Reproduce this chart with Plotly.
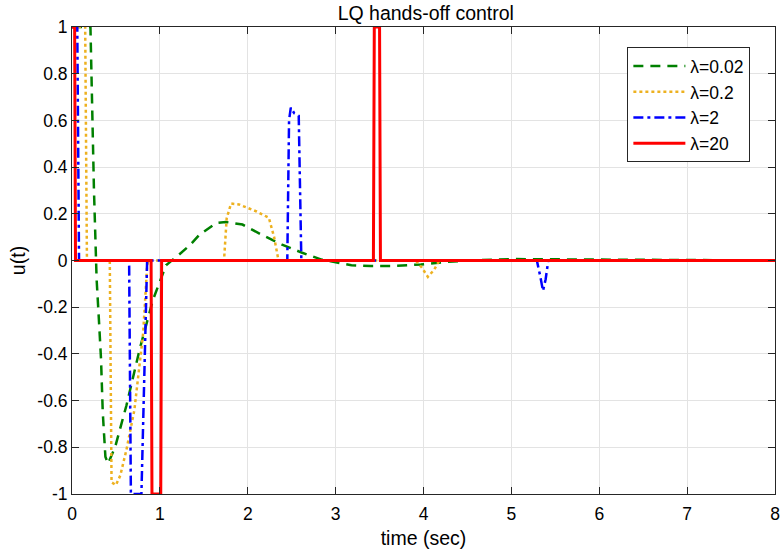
import plotly.graph_objects as go

# ---- data ----
t_002 = [0, 0.21, 0.25, 0.28, 0.31, 0.33, 0.35, 0.38, 0.41, 0.49, 0.62, 0.77, 0.92, 1.07, 1.22, 1.34,
         1.45, 1.64, 1.75, 1.94, 2.16, 2.39, 2.62, 2.84, 3.18, 3.40, 3.63, 3.97, 4.23, 4.50, 5.00,
         5.50, 6.00, 8.00]
u_002 = [1, 1, 0.3, -0.08, -0.28, -0.42, -0.65, -0.84, -0.87, -0.8, -0.62, -0.38, -0.17, -0.02, 0.026,
         0.065, 0.11, 0.16, 0.165, 0.154, 0.11, 0.068, 0.033, 0.004, -0.02, -0.024, -0.024, -0.017,
         -0.007, 0.0, 0.006, 0.005, 0.002, 0]

t_02 = [0, 0.15, 0.17, 0.43, 0.45, 0.50, 0.55, 0.62, 0.71, 0.77, 0.81, 0.84, 0.855, 0.87,
        1.73, 1.76, 1.81, 1.9, 2.0, 2.1, 2.24, 2.3, 2.35, 3.91, 3.98, 4.05, 4.12, 4.18, 8]
u_02 = [1, 1, 0, 0, -0.95, -0.962, -0.92, -0.81, -0.64, -0.45, -0.31, -0.12, -0.02, 0,
        0, 0.18, 0.244, 0.24, 0.225, 0.21, 0.183, 0.1, 0, 0, -0.03, -0.07, -0.04, 0, 0]

t_2 = [0, 0.06, 0.08, 0.65, 0.67, 0.79, 0.855, 2.45, 2.47, 2.49, 2.53, 2.58, 2.61,
       5.29, 5.33, 5.36, 5.39, 5.42, 8]
u_2 = [1, 1, 0, 0, -1, -1, 0, 0, 0.6, 0.655, 0.63, 0.62, 0,
       0, -0.07, -0.13, -0.08, 0, 0]

t_20 = [0, 0.03, 0.04, 0.90, 0.91, 1.01, 1.02, 3.43, 3.44, 3.50, 3.51, 8]
u_20 = [1, 1, 0, 0, -1, -1, 0, 0, 1, 1, 0, 0]

names = ["λ=0.02", "λ=0.2", "λ=2", "λ=20"]
x_ticks = [0, 1, 2, 3, 4, 5, 6, 7, 8]
y_ticks = [-1, -0.8, -0.6, -0.4, -0.2, 0, 0.2, 0.4, 0.6, 0.8, 1]
y_tick_text = ["-1", "-0.8", "-0.6", "-0.4", "-0.2", "0", "0.2", "0.4", "0.6", "0.8", "1"]

FONT = "Liberation Sans, Arial, Helvetica, sans-serif"
AX = "#262626"

fig = go.Figure()
fig.add_trace(go.Scatter(x=t_002, y=u_002, mode="lines", name=names[0],
                         line=dict(color="#008000", width=2.5, dash="10px,7px")))
fig.add_trace(go.Scatter(x=t_02, y=u_02, mode="lines", name=names[1],
                         line=dict(color="#EDB120", width=2.5, dash="3px,3px")))
fig.add_trace(go.Scatter(x=t_2, y=u_2, mode="lines", name=names[2],
                         line=dict(color="#0000FF", width=2.5, dash="10px,4px,3px,4px")))
fig.add_trace(go.Scatter(x=t_20, y=u_20, mode="lines", name=names[3],
                         line=dict(color="#FF0000", width=3)))

axis_common = dict(showgrid=True, gridcolor="#e3e3e3", gridwidth=1,
                   showline=True, linecolor=AX, linewidth=1, mirror="ticks",
                   ticks="inside", ticklen=7, tickcolor=AX, tickwidth=1,
                   zeroline=False, ticklabeloverflow="allow",
                   tickfont=dict(family=FONT, size=17.5, color="#000"))

fig.update_xaxes(range=[0, 8], tickvals=x_ticks, ticktext=[str(v) for v in x_ticks],
                 ticklabelstandoff=4,
                 title=dict(text="time (sec)", font=dict(family=FONT, size=19.5, color="#000"), standoff=8),
                 **axis_common)
fig.update_yaxes(range=[-1, 1], tickvals=y_ticks, ticktext=y_tick_text,
                 title=dict(text="u(t)", font=dict(family=FONT, size=19.5, color="#000"), standoff=6),
                 **axis_common)

fig.update_layout(
    width=782, height=554,
    margin=dict(l=72, r=2, t=27, b=60),
    paper_bgcolor="white", plot_bgcolor="white",
    title=dict(text="LQ hands-off control", x=0.5445, xanchor="center",
               yref="container", y=0.977, yanchor="middle",
               font=dict(family=FONT, size=19.5, color="#000")),
    legend=dict(x=0.79, y=0.957, xanchor="left", yanchor="top",
                bgcolor="white", bordercolor=AX, borderwidth=1,
                font=dict(family=FONT, size=17.5, color="#000"), itemwidth=52),
    showlegend=True,
)

fig.write_html("out.html")
